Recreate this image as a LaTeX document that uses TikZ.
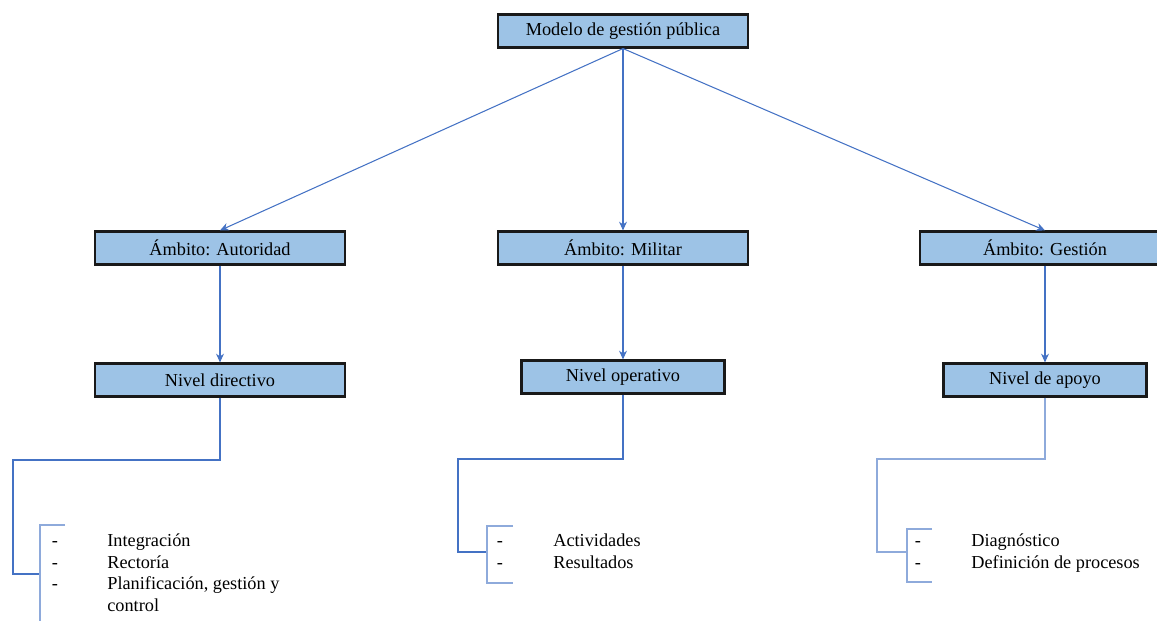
\documentclass[tikz,border=0pt]{standalone}
\usepackage{fontspec}
\setmainfont{Liberation Serif}
\usetikzlibrary{arrows.meta}
\definecolor{cajaazul}{RGB}{157,195,230}
\definecolor{lineaazul}{RGB}{68,114,196}
\definecolor{corchete}{RGB}{142,170,219}

\begin{document}
\begin{tikzpicture}[x=0.02cm,y=-0.02cm,>={Stealth[length=5pt,width=4.5pt]},
  caja/.style={draw=black!90,line width=1.2pt,fill=cajaazul,minimum height=0.66cm,font=\fontsize{10.4}{12.5}\selectfont},
  flecha/.style={->,lineaazul,semithick},
  rama/.style={lineaazul,semithick},
  llave/.style={corchete,semithick},
  lista/.style={anchor=base west,inner sep=0pt,font=\fontsize{10.4}{12.5}\selectfont},
  guion/.style={anchor=base,inner sep=0pt,font=\fontsize{10.4}{12.5}\selectfont}]
\useasboundingbox (0,0) rectangle (1157,621);

% cajas
\node[caja,minimum width=5cm] (modelo) at (623,31) {Modelo de gestión pública};
\node[caja,minimum width=5cm] (autoridad) at (220,248) {Ámbito: Autoridad};
\node[caja,minimum width=5cm] (militar) at (623,248) {Ámbito: Militar};
\node[caja,minimum width=5cm] (gestion) at (1045,248) {Ámbito: Gestión};
\node[caja,minimum width=5cm] (directivo) at (220,380) {Nivel directivo};
\node[caja,minimum width=4.06cm] (operativo) at (623,377) {Nivel operativo};
\node[caja,minimum width=4.06cm] (apoyo) at (1045,380) {Nivel de apoyo};

% flechas
\draw[flecha] (modelo.south) -- (autoridad.north);
\draw[flecha] (modelo.south) -- (militar.north);
\draw[flecha] (modelo.south) -- (gestion.north);
\draw[flecha] (autoridad.south) -- (directivo.north);
\draw[flecha] (militar.south) -- (operativo.north);
\draw[flecha] (gestion.south) -- (apoyo.north);

% ramas hacia las listas
\coordinate (codoA) at (13,460);
\coordinate (llaveA) at (40,574);
\coordinate (codoB) at (458,459);
\coordinate (llaveB) at (487,552);
\coordinate (codoC) at (877,459);
\coordinate (llaveC) at (907,552);
\draw[rama] (directivo.south) |- (codoA) |- (llaveA);
\draw[rama] (operativo.south) |- (codoB) |- (llaveB);
\draw[llave] (apoyo.south) |- (codoC) |- (llaveC);

% corchetes
\draw[llave] (65,525) -- (40,525) -- (40,621);
\draw[llave] (513,526) -- (487,526) -- (487,583) -- (513,583);
\draw[llave] (932,529) -- (907,529) -- (907,582) -- (932,582);

% listas
\foreach \texto [count=\i] in {Integración, Rectoría, {Planificación, gestión y}, control}
  \node[lista] (itemA\i) at (107,547+21.5*\i-21.5) {\texto};
\foreach \i in {1,2,3}
  \node[guion] (guionA\i) at (55,547+21.5*\i-21.5) {-};

\foreach \texto [count=\i] in {Actividades, Resultados}
  \node[lista] (itemB\i) at (553,547+21.5*\i-21.5) {\texto};
\foreach \i in {1,2}
  \node[guion] (guionB\i) at (500,547+21.5*\i-21.5) {-};

\foreach \texto [count=\i] in {Diagnóstico, Definición de procesos}
  \node[lista] (itemC\i) at (971,547+21.5*\i-21.5) {\texto};
\foreach \i in {1,2}
  \node[guion] (guionC\i) at (918,547+21.5*\i-21.5) {-};
\end{tikzpicture}
\end{document}
